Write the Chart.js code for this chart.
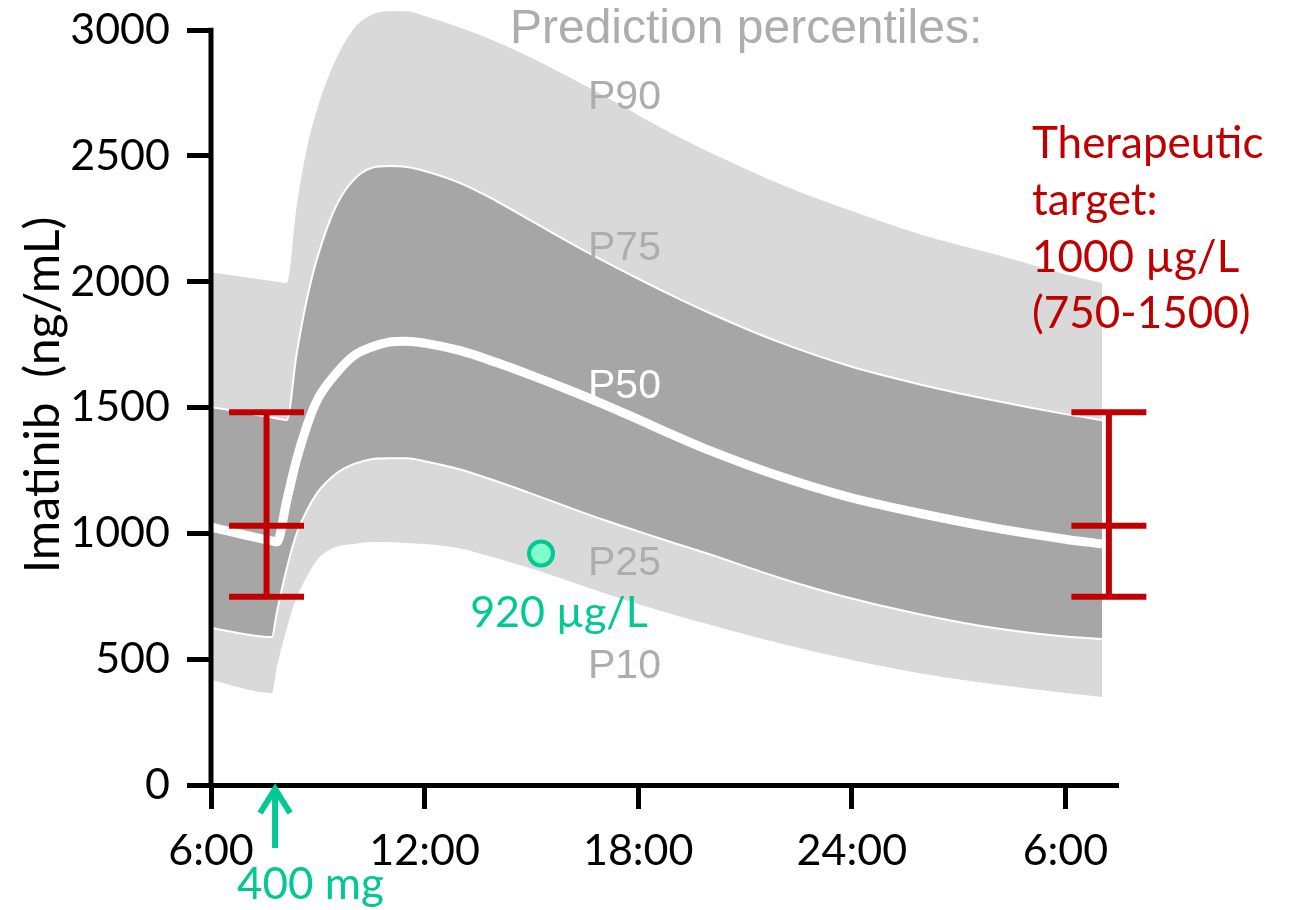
<!DOCTYPE html>
<html>
<head>
<meta charset="utf-8">
<script src="https://cdn.jsdelivr.net/npm/chart.js@4.4.1/dist/chart.umd.min.js"></script>
<style>
html, body { margin: 0; padding: 0; background: #ffffff; }
canvas { display: block; }
</style>
</head>
<body>
<canvas id="c" width="1294" height="910"></canvas>
<script>
// ---- data (hours after 6:00, concentration ng/mL) ----
const hours = [0, 1.71, 1.85, 2.13, 2.4, 2.7, 3.0, 3.5, 4.0, 4.5, 5.0, 5.5, 6, 7, 8, 9, 10, 11, 12, 13, 14, 16, 18, 20, 22, 24, 25.03];
const p90 = [2038, 2003, 2000, 1995, 2293, 2535, 2694, 2881, 3004, 3060, 3075, 3075, 3056, 3010, 2955, 2890, 2818, 2742, 2662, 2585, 2515, 2388, 2281, 2185, 2110, 2030, 1995];
const p75 = [1502, 1461, 1457, 1450, 1709, 1935, 2102, 2297, 2404, 2452, 2460, 2456, 2440, 2392, 2322, 2242, 2162, 2085, 2012, 1942, 1876, 1758, 1662, 1589, 1528, 1474, 1450];
const p50 = [1025, 970, 966, 1132, 1291, 1430, 1534, 1633, 1705, 1740, 1760, 1764, 1756, 1726, 1680, 1628, 1573, 1515, 1453, 1390, 1330, 1226, 1141, 1077, 1022, 977, 958];
const p25 = [624, 588, 687, 862, 997, 1093, 1164, 1236, 1275, 1295, 1299, 1299, 1287, 1254, 1208, 1158, 1106, 1055, 1008, 962, 917, 822, 741, 676, 624, 590, 580];
const p10 = [417, 366, 469, 624, 743, 830, 898, 946, 958, 966, 966, 962, 958, 940, 902, 860, 813, 765, 719, 677, 638, 562, 497, 442, 400, 366, 350];

const tickHours = [0, 6, 12, 18, 24];
const tickLabels = ['6:00', '12:00', '18:00', '24:00', '6:00'];
const yTicks = [0, 500, 1000, 1500, 2000, 2500, 3000];

const targetHours = [1.56, 25.22];
const targetRange = [748, 1030, 1481];

const obsHours = [9.27];
const obsValues = [920];
const doseHour = 1.80;

// ---- styles ----
const LIGHT = '#d9d9d9';
const DARK = '#a6a6a6';
const RED = '#c00000';
const GREEN = '#00c994';
const GREY_TXT = '#adadad';
const SANS = 'Lato';

const toXY = (arr) => hours.map((h, i) => ({ x: h, y: arr[i] }));

const bandBase = {
  type: 'line', pointRadius: 0, pointHoverRadius: 0,
  cubicInterpolationMode: 'monotone', borderCapStyle: 'butt'
};

const datasets = [
  Object.assign({}, bandBase, { label: 'P90', data: toXY(p90), borderWidth: 0, borderColor: 'rgba(0,0,0,0)', backgroundColor: LIGHT, fill: { target: 4 }, order: 10 }),
  Object.assign({}, bandBase, { label: 'P75', data: toXY(p75), borderWidth: 2, borderColor: '#ffffff', backgroundColor: DARK, fill: { target: 3 }, order: 8 }),
  Object.assign({}, bandBase, { label: 'P50', data: toXY(p50), borderWidth: 9, borderColor: '#ffffff', fill: false, order: 6 }),
  Object.assign({}, bandBase, { label: 'P25', data: toXY(p25), borderWidth: 2, borderColor: '#ffffff', fill: false, order: 7 }),
  Object.assign({}, bandBase, { label: 'P10', data: toXY(p10), borderWidth: 0, borderColor: 'rgba(0,0,0,0)', fill: false, order: 9 })
];

// therapeutic target error bars
targetHours.forEach((h) => {
  datasets.push({
    type: 'line', label: 'target range', data: [{ x: h, y: targetRange[0] }, { x: h, y: targetRange[2] }],
    borderColor: RED, borderWidth: 6, pointRadius: 0, fill: false, tension: 0, clip: false, order: 2
  });
  datasets.push({
    type: 'scatter', label: 'target caps', data: targetRange.map((v) => ({ x: h, y: v })),
    pointStyle: 'line', pointRadius: 37.5, pointHoverRadius: 37.5, pointBorderWidth: 6, pointHoverBorderWidth: 6,
    borderColor: RED, backgroundColor: RED, showLine: false, clip: false, order: 1
  });
});

// measured concentration
datasets.push({
  type: 'scatter', label: 'measured', data: obsHours.map((h, i) => ({ x: h, y: obsValues[i] })),
  pointStyle: 'circle', pointRadius: 12, pointHoverRadius: 12, pointBorderWidth: 4, pointHoverBorderWidth: 4,
  backgroundColor: '#80ffc8', borderColor: GREEN, showLine: false, clip: false, order: 0
});

// text annotations anchored in data coordinates (hours, ng/mL)
const notes = [
  { text: 'Prediction percentiles:', h: 15.03, v: 2949, font: '48px "Liberation Sans"', color: GREY_TXT, align: 'center' },
  { text: 'P90', h: 10.59, v: 2687, font: '41px "Liberation Sans"', color: GREY_TXT, align: 'left' },
  { text: 'P75', h: 10.59, v: 2087, font: '41px "Liberation Sans"', color: GREY_TXT, align: 'left' },
  { text: 'P50', h: 10.59, v: 1538, font: '41px "Liberation Sans"', color: '#ffffff', align: 'left' },
  { text: 'P25', h: 10.59, v: 835, font: '41px "Liberation Sans"', color: GREY_TXT, align: 'left' },
  { text: 'P10', h: 10.59, v: 425, font: '41px "Liberation Sans"', color: GREY_TXT, align: 'left' },
  { text: '920 \u00b5g/L', h: 7.28, v: 628, font: '43px ' + SANS, color: GREEN, align: 'left' },
  { text: '400 mg', h: 0.73, v: -453, font: '44px ' + SANS, color: GREEN, align: 'left' },
  { text: 'Therapeutic', h: 23.06, v: 2492, font: '44px ' + SANS, color: RED, align: 'left' },
  { text: 'target:', h: 23.06, v: 2265, font: '44px ' + SANS, color: RED, align: 'left' },
  { text: '1000 \u00b5g/L', h: 23.06, v: 2039, font: '44px ' + SANS, color: RED, align: 'left' },
  { text: '(750-1500)', h: 23.06, v: 1816, font: '44px ' + SANS, color: RED, align: 'left' }
];

const decor = {
  id: 'decor',
  afterDatasetsDraw(chart) {
    const { ctx, chartArea } = chart;
    const xs = chart.scales.x, ys = chart.scales.y;
    ctx.save();
    // y axis line from 0 to 3000
    ctx.strokeStyle = '#000000';
    ctx.lineWidth = 5;
    ctx.lineCap = 'butt';
    ctx.beginPath();
    ctx.moveTo(chartArea.left, ys.getPixelForValue(0) + 2.5);
    ctx.lineTo(chartArea.left, ys.getPixelForValue(yTicks[yTicks.length - 1]) - 2.5);
    ctx.stroke();
    // dose arrow
    const ax = xs.getPixelForValue(doseHour);
    const ay = ys.getPixelForValue(0);
    ctx.strokeStyle = GREEN;
    ctx.lineWidth = 6;
    ctx.beginPath();
    ctx.moveTo(ax, ay + 63);
    ctx.lineTo(ax, ay + 4);
    ctx.stroke();
    ctx.lineJoin = 'miter';
    ctx.beginPath();
    ctx.moveTo(ax - 15, ay + 28);
    ctx.lineTo(ax, ay + 4);
    ctx.lineTo(ax + 15, ay + 28);
    ctx.stroke();
    // texts
    ctx.textBaseline = 'alphabetic';
    notes.forEach((n) => {
      ctx.font = n.font;
      ctx.fillStyle = n.color;
      ctx.textAlign = n.align;
      ctx.fillText(n.text, xs.getPixelForValue(n.h), ys.getPixelForValue(n.v));
    });
    ctx.restore();
  }
};

new Chart(document.getElementById('c'), {
  type: 'line',
  data: { datasets },
  plugins: [decor],
  options: {
    responsive: false,
    animation: false,
    events: [],
    layout: { autoPadding: false, padding: { left: 0, right: 178, top: 5, bottom: 0 } },
    plugins: { legend: { display: false }, tooltip: { enabled: false }, title: { display: false } },
    scales: {
      x: {
        type: 'linear', min: 0, max: 25.42,
        border: { display: true, color: '#000000', width: 5 },
        grid: { display: true, drawOnChartArea: false, drawTicks: true, tickLength: 24, lineWidth: 5, color: '#000000' },
        ticks: {
          color: '#000000', padding: 16, maxRotation: 0, autoSkip: false,
          font: { family: SANS, size: 43 },
          callback: (v, i) => tickLabels[i]
        },
        afterBuildTicks: (s) => { s.ticks = tickHours.map((v) => ({ value: v })); },
        afterFit: (s) => { s.height = 125; s.paddingLeft = 0; s.paddingRight = 0; }
      },
      y: {
        type: 'linear', min: 0, max: 3100,
        border: { display: false },
        grid: { display: true, drawOnChartArea: false, drawTicks: true, tickLength: 24, lineWidth: 5, color: '#000000' },
        ticks: {
          color: '#000000', padding: 17,
          font: { family: SANS, size: 43 },
          callback: (v) => String(v)
        },
        afterBuildTicks: (s) => { s.ticks = yTicks.map((v) => ({ value: v })); },
        title: {
          display: true, text: 'Imatinib  (ng/mL)', color: '#000000',
          font: { family: SANS, size: 48 }, padding: { top: 15, bottom: 0 }
        },
        afterFit: (s) => { s.width = 211; s.paddingTop = 0; s.paddingBottom = 0; }
      }
    }
  }
});
</script>
</body>
</html>
